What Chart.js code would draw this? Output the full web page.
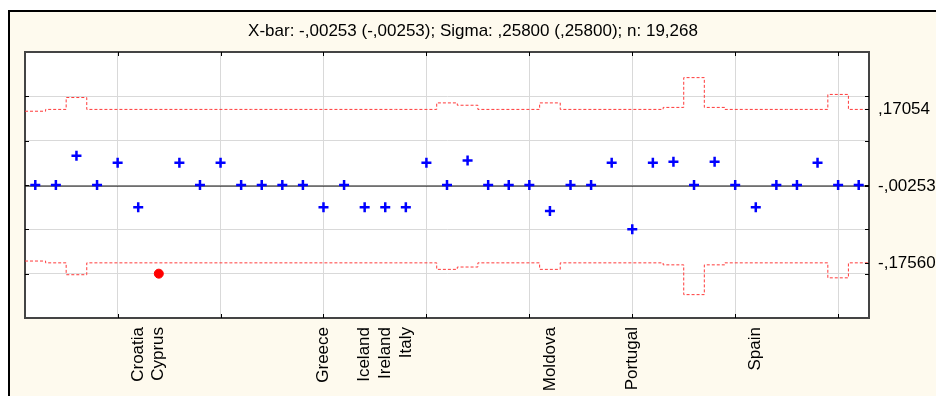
<!DOCTYPE html>
<html>
<head>
<meta charset="utf-8">
<script src="https://cdn.jsdelivr.net/npm/chart.js@4"></script>
<style>
html, body { margin: 0; padding: 0; background: #fff; width: 936px; height: 396px; overflow: hidden; }
#frame { position: absolute; left: 8px; top: 10px; width: 928px; height: 386px; border-left: 2px solid #000; border-top: 2px solid #000; background: #fefaee; }
#wrap { position: absolute; left: 10px; top: 12px; width: 926px; height: 384px; }
</style>
</head>
<body>
<div id="frame"></div>
<div id="wrap"><canvas id="chart"></canvas></div>
<script>
// sample names (only the ones the original printed are filled in)
var sampleNames = ["", "", "", "", "", "Croatia", "Cyprus", "", "", "",
    "", "", "", "", "Greece", "", "Iceland", "Ireland", "Italy", "",
    "", "", "", "", "", "Moldova", "", "", "", "Portugal",
    "", "", "", "", "", "Spain", "", "", "", "",
    ""];
var means = [0, 0, 0.066, 0, 0.05, -0.05, -0.2, 0.05, 0, 0.05,
    0, 0, 0, 0, -0.05, 0, -0.05, -0.05, -0.05, 0.05,
    0, 0.055, 0, 0, 0, -0.0585, 0, 0, 0.05, -0.1,
    0.05, 0.0526, 0, 0.0526, 0, -0.05, 0, 0, 0.05, 0,
    0];
var ucl = [0.1664, 0.1705, 0.1973, 0.1705, 0.1705, 0.1705, 0.1705, 0.1705, 0.1705, 0.1705,
    0.1705, 0.1705, 0.1705, 0.1705, 0.1705, 0.1705, 0.1705, 0.1705, 0.1705, 0.1705,
    0.1852, 0.1799, 0.1705, 0.1705, 0.1705, 0.1852, 0.1705, 0.1705, 0.1705, 0.1705,
    0.1705, 0.1750, 0.2422, 0.1750, 0.1705, 0.1705, 0.1705, 0.1705, 0.1705, 0.2043,
    0.1705];
var lcl = [-0.1715, -0.1756, -0.2024, -0.1756, -0.1756, -0.1756, -0.1756, -0.1756, -0.1756, -0.1756,
    -0.1756, -0.1756, -0.1756, -0.1756, -0.1756, -0.1756, -0.1756, -0.1756, -0.1756, -0.1756,
    -0.1903, -0.1850, -0.1756, -0.1756, -0.1756, -0.1903, -0.1756, -0.1756, -0.1756, -0.1756,
    -0.1756, -0.1801, -0.2473, -0.1801, -0.1756, -0.1756, -0.1756, -0.1756, -0.1756, -0.2094,
    -0.1756];
var centerValue = -0.00253;
var rightTicks = [0.17054, -0.00253, -0.1756];
var rightTickText = [",17054", "-,00253", "-,17560"];
var gridX = [5, 10, 15, 20, 25, 30, 35, 40];
var gridY = [-0.2, -0.1, 0, 0.1, 0.2];
var titleText = "X-bar: -,00253 (-,00253); Sigma: ,25800 (,25800); n: 19,268";

var FONT = "'Liberation Sans', Arial, sans-serif";
var n = means.length;

var pts = [];
var uclPts = [];
var lclPts = [];
for (var i = 0; i < n; i++) {
    pts.push({ x: i + 1, y: means[i] });
    uclPts.push({ x: i + 0.5, y: ucl[i] });
    lclPts.push({ x: i + 0.5, y: lcl[i] });
}
uclPts.push({ x: n + 0.5, y: ucl[n - 1] });
lclPts.push({ x: n + 0.5, y: lcl[n - 1] });

function isOut(i) {
    return means[i] > ucl[i] || means[i] < lcl[i];
}

// x ticks: grid lines every 5 plus the named samples
var xTickVals = gridX.slice();
for (var i = 0; i < n; i++) {
    if (sampleNames[i] && xTickVals.indexOf(i + 1) < 0) xTickVals.push(i + 1);
}
xTickVals.sort(function (a, b) { return a - b; });

var plotBg = {
    id: "plotBg",
    beforeDraw: function (chart) {
        var a = chart.chartArea, ctx = chart.ctx;
        ctx.save();
        ctx.fillStyle = "#fff";
        ctx.fillRect(a.left, a.top, a.right - a.left, a.bottom - a.top);
        ctx.restore();
    }
};

var frameTicks = {
    id: "frameTicks",
    afterDatasetsDraw: function (chart) {
        var ctx = chart.ctx, a = chart.chartArea;
        var xs = chart.scales.x, ys = chart.scales.y;
        ctx.save();
        ctx.strokeStyle = "#444";
        ctx.lineWidth = 2;
        ctx.beginPath();
        ctx.moveTo(a.left - 1, a.top);
        ctx.lineTo(a.right + 1, a.top);
        ctx.stroke();
        ctx.strokeStyle = "#000";
        ctx.lineWidth = 1;
        ctx.beginPath();
        gridX.forEach(function (v) {
            var px = Math.round(xs.getPixelForValue(v)) + 0.5;
            ctx.moveTo(px, a.top);
            ctx.lineTo(px, a.top + 4);
            ctx.moveTo(px, a.bottom);
            ctx.lineTo(px, a.bottom - 4);
        });
        gridY.concat(rightTicks).forEach(function (v) {
            var py = Math.round(ys.getPixelForValue(v)) + 0.5;
            ctx.moveTo(a.right, py);
            ctx.lineTo(a.right - 4, py);
            if (gridY.indexOf(v) >= 0) {
                ctx.moveTo(a.left, py);
                ctx.lineTo(a.left + 4, py);
            }
        });
        ctx.stroke();
        ctx.restore();
    }
};

new Chart("chart", {
    type: "scatter",
    data: {
        datasets: [{
            label: "means",
            data: pts,
            showLine: false,
            pointStyle: function (c) { return isOut(c.dataIndex) ? "circle" : "cross"; },
            pointRadius: function (c) { return isOut(c.dataIndex) ? 4.5 : 5; },
            pointBorderWidth: function (c) { return isOut(c.dataIndex) ? 1 : 2.5; },
            pointBorderColor: function (c) { return isOut(c.dataIndex) ? "#ff0000" : "#0000ff"; },
            pointBackgroundColor: function (c) { return isOut(c.dataIndex) ? "#ff0000" : "#0000ff"; }
        }, {
            label: "center",
            data: [{ x: 0.5, y: centerValue }, { x: n + 0.5, y: centerValue }],
            showLine: true,
            borderColor: "#111",
            borderWidth: 1,
            pointRadius: 0
        }, {
            label: "UCL",
            data: uclPts,
            showLine: true,
            stepped: true,
            borderColor: "#ff3a3a",
            borderWidth: 1,
            borderDash: [3, 2],
            pointRadius: 0
        }, {
            label: "LCL",
            data: lclPts,
            showLine: true,
            stepped: true,
            borderColor: "#ff3a3a",
            borderWidth: 1,
            borderDash: [3, 2],
            pointRadius: 0
        }]
    },
    options: {
        responsive: true,
        maintainAspectRatio: false,
        animation: false,
        layout: { padding: 0 },
        plugins: {
            legend: { display: false },
            tooltip: { enabled: false },
            title: {
                display: true,
                text: titleText,
                color: "#000",
                font: { family: FONT, size: 17, weight: "normal" },
                padding: { top: 9, bottom: 10.6 }
            }
        },
        scales: {
            x: {
                type: "linear",
                position: "bottom",
                min: 0.5,
                max: n + 0.5,
                afterBuildTicks: function (s) {
                    s.ticks = xTickVals.map(function (v) { return { value: v }; });
                },
                afterFit: function (s) { s.height = 78; },
                ticks: {
                    autoSkip: false,
                    minRotation: 90,
                    maxRotation: 90,
                    padding: 9,
                    color: "#000",
                    font: { family: FONT, size: 17 },
                    callback: function (v) { return sampleNames[v - 1] || ""; }
                },
                grid: {
                    drawTicks: false,
                    color: function (c) {
                        return c.tick && gridX.indexOf(c.tick.value) >= 0 ? "#d9d9d9" : "rgba(0,0,0,0)";
                    }
                },
                border: { color: "#444", width: 2 }
            },
            y: {
                type: "linear",
                position: "left",
                min: -0.3,
                max: 0.3,
                afterBuildTicks: function (s) {
                    s.ticks = gridY.map(function (v) { return { value: v }; });
                },
                afterFit: function (s) { s.width = 15; },
                ticks: { display: false },
                grid: { drawTicks: false, color: "#d9d9d9" },
                border: { color: "#444", width: 2 }
            },
            y2: {
                type: "linear",
                position: "right",
                min: -0.3,
                max: 0.3,
                afterBuildTicks: function (s) {
                    s.ticks = rightTicks.map(function (v) { return { value: v }; });
                },
                afterFit: function (s) { s.width = 67; },
                ticks: {
                    padding: 9,
                    color: "#000",
                    font: { family: FONT, size: 17 },
                    callback: function (v, idx) { return rightTickText[idx]; }
                },
                grid: { drawOnChartArea: false, drawTicks: false },
                border: { color: "#444", width: 2 }
            }
        }
    },
    plugins: [plotBg, frameTicks]
});
</script>
</body>
</html>
